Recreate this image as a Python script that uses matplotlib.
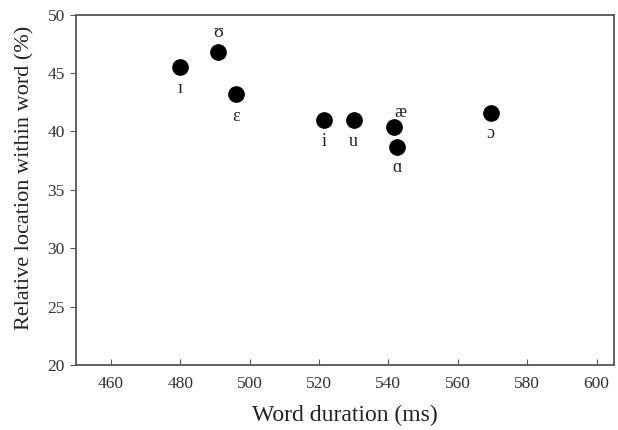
import matplotlib
matplotlib.use('Agg')
import matplotlib.pyplot as plt

plt.rcParams['font.family'] = ['Liberation Serif', 'DejaVu Serif']

# vowel, word duration (ms), relative location (%)
vowels = ['ɪ', 'ʊ', 'ɛ', 'i', 'u', 'æ', 'ɑ', 'ɔ']
duration = [480, 491, 496, 521.5, 530, 541.5, 542.5, 569.5]
location = [45.5, 46.8, 43.2, 41.0, 41.0, 40.4, 38.7, 41.6]
# label offset in points (dx, dy)
offsets = [(0, -15), (0, 14), (0, -16), (0, -16), (0, -16), (5, 10), (0, -15), (0, -15)]

xticks = [460, 480, 500, 520, 540, 560, 580, 600]
yticks = [20, 25, 30, 35, 40, 45, 50]

figure = plt.figure(figsize=(6.18, 4.30), dpi=100)
figure.subplots_adjust(left=0.123, right=0.9935, bottom=0.151, top=0.966)
axes = figure.add_subplot(111)

axes.plot(duration, location, 'o', color='k', markersize=11)
for v, x, y, (dx, dy) in zip(vowels, duration, location, offsets):
    axes.annotate(v, (x, y), xytext=(dx, dy), textcoords='offset points',
                  ha='center', va='center', fontsize=13, color='#222222')

axes.set_xlim(450, 605)
axes.set_ylim(20, 50)
axes.set_xticks(xticks)
axes.set_yticks(yticks)

for s in axes.spines.values():
    s.set_color('#555555')
    s.set_linewidth(1.3)

axes.tick_params(axis='x', direction='in', length=4, color='#555555',
                 labelsize=12.5, labelcolor='#333333', pad=8)
axes.tick_params(axis='y', direction='out', length=4, color='#555555',
                 labelsize=12.5, labelcolor='#333333', pad=4)

axes.set_xlabel('Word duration (ms)', fontsize=17, color='#222222', labelpad=9)
axes.set_ylabel('Relative location within word (%)', fontsize=16, color='#222222')
axes.yaxis.set_label_coords(-0.078, 0.534)

figure.savefig('out.png', dpi=100)
